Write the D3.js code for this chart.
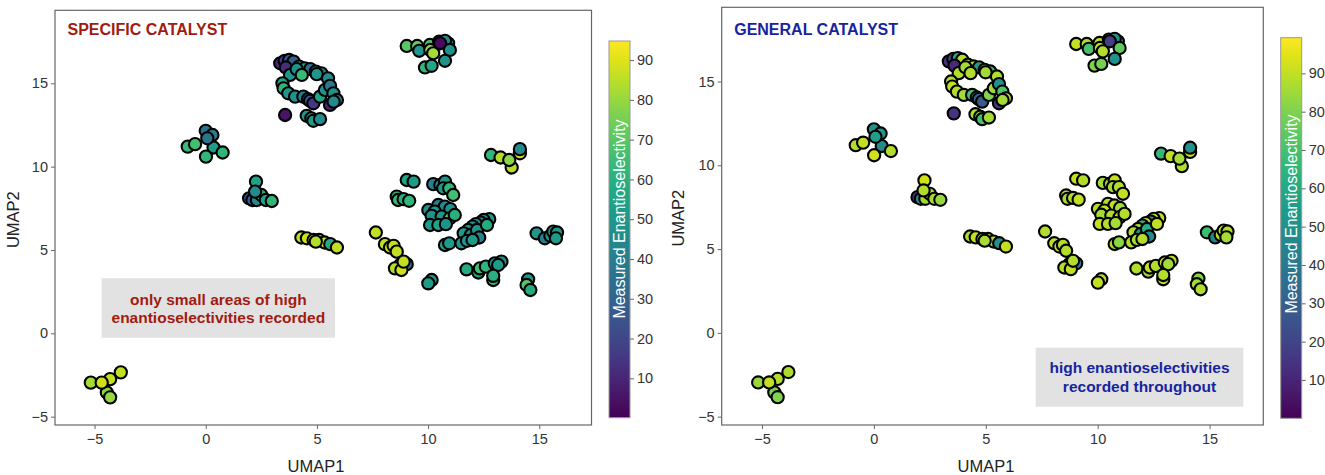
<!DOCTYPE html>
<html>
<head>
<meta charset="utf-8">
<script src="https://cdn.jsdelivr.net/npm/d3@7"></script>
<style>
  html, body { margin: 0; padding: 0; background: #fff; }
  svg { display: block; font-family: "Liberation Sans", Arial, sans-serif; }
</style>
</head>
<body>
<svg id="chart" width="1325" height="475"></svg>
<script>
// ---------------- DATA ----------------
const umap1 = [
  // cluster near (-4.5,-3)
  -5.17, -4.45, -4.30, -4.68, -3.82, -4.30,
  // cluster near (0,11.5)
  0.00, 0.30, 0.35, -0.81, -0.48, 0.07, 0.01, 0.76,
  // cluster near (2.3,8.3)
  1.95, 2.10, 2.30, 2.50, 2.70, 2.26, 2.22, 2.97,
  // large cluster near (4.5,14.5)
  3.35, 3.55, 3.75, 3.95, 3.60, 4.20, 4.45, 4.70, 4.95, 5.20, 3.79, 4.09, 4.32, 4.99,
  3.45, 3.50, 3.71, 4.02, 4.39, 4.60, 4.69, 4.84, 5.14,
  5.50, 5.36, 5.59, 5.74, 5.90, 5.59, 5.75,
  3.57, 4.54, 4.75, 4.84, 5.14,
  // top cluster near (10,17)
  9.04, 9.51, 9.60, 10.08, 10.50, 10.90, 10.76, 10.10, 10.23, 10.54, 10.98, 10.76, 9.86, 10.16,
  // cluster near (13.5,10.5)
  14.13, 14.13, 12.83, 13.26, 13.76, 13.65,
  // cluster near (5,5.5)
  4.30, 4.55, 4.85, 5.10, 5.35, 4.95, 5.60, 5.90,
  // cluster near (8.5,4.5)
  7.65, 8.06, 8.29, 8.45, 8.59, 9.04, 8.74, 8.51, 8.80, 8.90,
  // cluster near (10,3)
  10.16, 10.01,
  // cluster near (12.5,4)
  11.73, 12.26, 12.33, 12.60, 13.00, 13.30, 13.15, 12.93, 12.93,
  // cluster near (14.5,3)
  14.50, 14.43, 14.60,
  // cluster near (15.4,5.9)
  14.88, 15.25, 15.50, 15.63, 15.80, 15.75,
  // cluster near (9,8.5)
  9.04, 9.35, 8.59, 8.65, 8.90, 9.15,
  // central cluster near (10.6,7.5)
  10.23, 10.55, 10.76, 10.68, 10.95, 11.13,
  10.46, 10.75, 11.00, 10.01, 10.30, 10.16, 10.61, 10.98, 11.20, 10.09, 10.46, 10.80,
  10.76, 10.95,
  // diagonal band near (12,6)
  12.75, 12.50, 12.36, 12.15, 12.00, 11.80, 11.60, 11.92, 12.20, 12.30, 11.50, 11.75, 12.00, 12.65
];
const umap2 = [
  -2.96, -3.55, -2.75, -2.96, -2.34, -3.84,
  12.15, 11.90, 11.15, 11.20, 11.35, 11.70, 10.60, 10.85,
  8.10, 8.00, 8.00, 8.30, 8.00, 9.10, 8.50, 7.94,
  16.20, 16.35, 16.40, 16.30, 15.95, 16.00, 15.90, 15.85, 15.70, 15.60, 15.50, 15.85, 15.50, 15.55,
  15.00, 14.70, 14.40, 14.20, 14.20, 14.05, 13.95, 13.80, 14.20,
  15.30, 14.60, 14.85, 14.40, 14.00, 13.70, 13.90,
  13.10, 13.05, 12.90, 12.75, 12.85,
  17.24, 17.24, 16.95, 17.30, 17.50, 17.40, 17.55, 17.00, 16.80, 17.40, 17.00, 16.35, 15.95, 16.05,
  10.80, 11.05, 10.70, 10.55, 9.95, 10.40,
  5.75, 5.70, 5.60, 5.60, 5.45, 5.50, 5.35, 5.15,
  6.05, 5.35, 5.15, 5.25, 4.90, 4.15, 4.10, 3.90, 3.80, 4.30,
  3.20, 3.00,
  3.84, 3.65, 3.90, 4.00, 4.20, 4.30, 4.10, 3.20, 3.45,
  3.24, 2.90, 2.60,
  6.00, 5.70, 5.85, 6.10, 6.05, 5.70,
  9.20, 9.10, 8.20, 8.00, 8.05, 7.95,
  8.95, 8.90, 9.10, 8.70, 8.70, 8.30,
  7.70, 7.60, 7.45, 7.40, 7.30, 7.05, 7.00, 6.90, 7.10, 6.50, 6.50, 6.55,
  5.30, 5.40,
  6.85, 6.80, 6.65, 6.55, 6.40, 6.20, 6.00, 5.90, 6.20, 5.75, 5.40, 5.55, 5.60, 6.50
];
// measured enantioselectivity, specific catalyst (left panel)
const eeSpecific = [
  82, 78, 86, 88, 86, 80,
  35, 40, 52, 64, 66, 36, 62, 62,
  22, 30, 45, 60, 55, 55, 45, 62,
  10, 15, 25, 30, 12, 50, 55, 35, 45, 40, 50, 48, 64, 50,
  55, 62, 50, 48, 40, 30, 28, 15, 55,
  45, 50, 38, 48, 42, 10, 45,
  5, 50, 48, 52, 45,
  70, 72, 50, 68, 45, 50, 45, 80, 82, 3, 48, 48, 62, 56,
  88, 45, 62, 84, 85, 78,
  86, 88, 86, 88, 86, 84, 58, 86,
  86, 86, 88, 86, 86, 38, 86, 84, 88, 86,
  50, 52,
  58, 55, 66, 62, 48, 46, 52, 64, 60,
  50, 70, 58,
  50, 40, 48, 46, 50, 52,
  55, 52, 62, 64, 60, 62,
  40, 45, 48, 52, 62, 66,
  40, 45, 48, 46, 50, 48, 50, 70, 60, 52, 55, 48,
  55, 52,
  50, 46, 40, 44, 48, 50, 52, 45, 50, 42, 48, 50, 52, 58
];
// measured enantioselectivity, general catalyst (right panel)
const eeGeneral = [
  84, 78, 88, 90, 87, 80,
  50, 52, 48, 88, 90, 55, 92, 88,
  15, 45, 85, 88, 86, 92, 88, 84,
  15, 20, 60, 88, 12, 85, 88, 55, 60, 65, 88, 86, 88, 85,
  88, 90, 88, 86, 70, 55, 35, 28, 80,
  88, 86, 50, 72, 88, 15, 86,
  15, 88, 82, 70, 86,
  90, 88, 70, 90, 88, 60, 50, 90, 88, 18, 75, 50, 80, 78,
  92, 50, 66, 90, 88, 86,
  88, 90, 88, 90, 88, 86, 50, 90,
  88, 90, 90, 88, 88, 45, 90, 88, 90, 88,
  88, 90,
  88, 86, 90, 88, 90, 88, 86, 90, 88,
  80, 86, 88,
  68, 45, 88, 90, 88, 86,
  90, 88, 88, 86, 88, 90,
  86, 88, 90, 86, 88, 90,
  88, 90, 86, 88, 90, 86, 88, 90, 88, 90, 88, 86,
  88, 82,
  90, 88, 55, 88, 65, 86, 88, 50, 62, 48, 88, 86, 88, 90
];
const axisTicks = [-5, 0, 5, 10, 15];
const colorbarTicks = [10, 20, 30, 40, 50, 60, 70, 80, 90];

// ---------------- LAYOUT ----------------
const panels = [
  {
    id: "s", values: eeSpecific,
    title: "SPECIFIC CATALYST", titleColor: "#a31b0f",
    xDomain: [-6.78, 17.35], xRange: [55, 591.5],
    yDomain: [-5.5, 19.38], yRange: [425, 10.3],
    cDomain: [0.1, 94.8], cb: { x: 609, w: 21, top: 41, bottom: 417.7 },
    cbLabelY: 219,
    note: ["only small areas of high", "enantioselectivities recorded"],
    noteBox: { x0: 101.7, x1: 335, y0: 278.3, y1: 337.7 }, noteBase: [305, 322.7],
    noteColor: "#a31b0f",
    xTitleX: 316, yTitleX: 19
  },
  {
    id: "g", values: eeGeneral,
    title: "GENERAL CATALYST", titleColor: "#16259e",
    xDomain: [-6.8, 17.4], xRange: [721.7, 1263.3],
    yDomain: [-5.5, 19.43], yRange: [425, 7.3],
    cDomain: [0, 99.3], cb: { x: 1280.7, w: 21, top: 37.7, bottom: 418.3 },
    cbLabelY: 214,
    note: ["high enantioselectivities", "recorded throughout"],
    noteBox: { x0: 1035.7, x1: 1243.3, y0: 347.7, y1: 406.7 }, noteBase: [373.3, 391.7],
    noteColor: "#16259e",
    xTitleX: 986, yTitleX: 684
  }
];

const svg = d3.select("#chart");
const defs = svg.append("defs");
const fmt = d => (d < 0 ? "\u2212" + Math.abs(d) : String(d));

panels.forEach(p => {
  const x = d3.scaleLinear().domain(p.xDomain).range(p.xRange);
  const y = d3.scaleLinear().domain(p.yDomain).range(p.yRange);
  const color = d3.scaleSequential(d3.interpolateViridis).domain(p.cDomain);
  const g = svg.append("g");

  // annotation box (behind points)
  g.append("rect")
    .attr("x", p.noteBox.x0).attr("y", p.noteBox.y0)
    .attr("width", p.noteBox.x1 - p.noteBox.x0)
    .attr("height", p.noteBox.y1 - p.noteBox.y0)
    .attr("fill", "#e2e2e2");
  p.note.forEach((t, i) => {
    g.append("text")
      .attr("x", (p.noteBox.x0 + p.noteBox.x1) / 2)
      .attr("y", p.noteBase[i])
      .attr("text-anchor", "middle")
      .attr("font-size", 15.5).attr("font-weight", "bold")
      .attr("fill", p.noteColor).text(t);
  });

  // points
  const idx = d3.range(umap1.length);
  g.append("g").selectAll("circle").data(idx).join("circle")
    .attr("cx", i => x(umap1[i]))
    .attr("cy", i => y(umap2[i]))
    .attr("r", 6.1)
    .attr("fill", i => color(p.values[i]))
    .attr("stroke", "#000")
    .attr("stroke-width", 2.1);

  // panel border
  g.append("rect")
    .attr("x", p.xRange[0]).attr("y", p.yRange[1])
    .attr("width", p.xRange[1] - p.xRange[0])
    .attr("height", p.yRange[0] - p.yRange[1])
    .attr("fill", "none").attr("stroke", "#666").attr("stroke-width", 1.2);

  // axes
  const xAxis = g.append("g").attr("transform", `translate(0,${p.yRange[0]})`)
    .call(d3.axisBottom(x).tickValues(axisTicks).tickFormat(fmt).tickSize(4).tickPadding(5));
  const yAxis = g.append("g").attr("transform", `translate(${p.xRange[0]},0)`)
    .call(d3.axisLeft(y).tickValues(axisTicks).tickFormat(fmt).tickSize(4).tickPadding(3));
  [xAxis, yAxis].forEach(a => {
    a.select(".domain").remove();
    a.selectAll(".tick line").attr("stroke", "#666");
    a.selectAll(".tick text").attr("fill", "#333").attr("font-size", 14.5)
      .attr("font-family", "Liberation Sans, Arial, sans-serif");
  });

  // axis titles
  g.append("text").attr("x", p.xTitleX).attr("y", 472)
    .attr("text-anchor", "middle").attr("font-size", 16.5).attr("fill", "#222").text("UMAP1");
  g.append("text")
    .attr("transform", `translate(${p.yTitleX},${(p.yRange[0] + p.yRange[1]) / 2 + 2}) rotate(-90)`)
    .attr("text-anchor", "middle").attr("font-size", 16.5).attr("fill", "#222").text("UMAP2");

  // panel title
  g.append("text").attr("x", p.xRange[0] + 12.5).attr("y", 35)
    .attr("font-size", 16).attr("font-weight", "bold")
    .attr("fill", p.titleColor).text(p.title);

  // colorbar
  const gradId = "grad-" + p.id;
  const grad = defs.append("linearGradient").attr("id", gradId)
    .attr("x1", 0).attr("y1", 1).attr("x2", 0).attr("y2", 0);
  d3.range(0, 1.0001, 0.05).forEach(t => {
    grad.append("stop").attr("offset", t).attr("stop-color", d3.interpolateViridis(t));
  });
  const cbScale = d3.scaleLinear().domain(p.cDomain).range([p.cb.bottom, p.cb.top]);
  g.append("rect")
    .attr("x", p.cb.x).attr("y", p.cb.top)
    .attr("width", p.cb.w).attr("height", p.cb.bottom - p.cb.top)
    .attr("fill", `url(#${gradId})`).attr("stroke", "#999").attr("stroke-width", 1);
  const cbAxis = g.append("g").attr("transform", `translate(${p.cb.x + p.cb.w},0)`)
    .call(d3.axisRight(cbScale).tickValues(colorbarTicks).tickSize(4).tickPadding(3));
  cbAxis.select(".domain").remove();
  cbAxis.selectAll(".tick line").attr("stroke", "#666");
  cbAxis.selectAll(".tick text").attr("fill", "#333").attr("font-size", 14.5)
    .attr("font-family", "Liberation Sans, Arial, sans-serif");
  g.append("text")
    .attr("transform", `translate(${p.cb.x + p.cb.w / 2 + 5.5},${p.cbLabelY}) rotate(-90)`)
    .attr("text-anchor", "middle").attr("font-size", 16).attr("fill", "#fff")
    .text("Measured Enantioselectivity");
});
</script>
</body>
</html>
